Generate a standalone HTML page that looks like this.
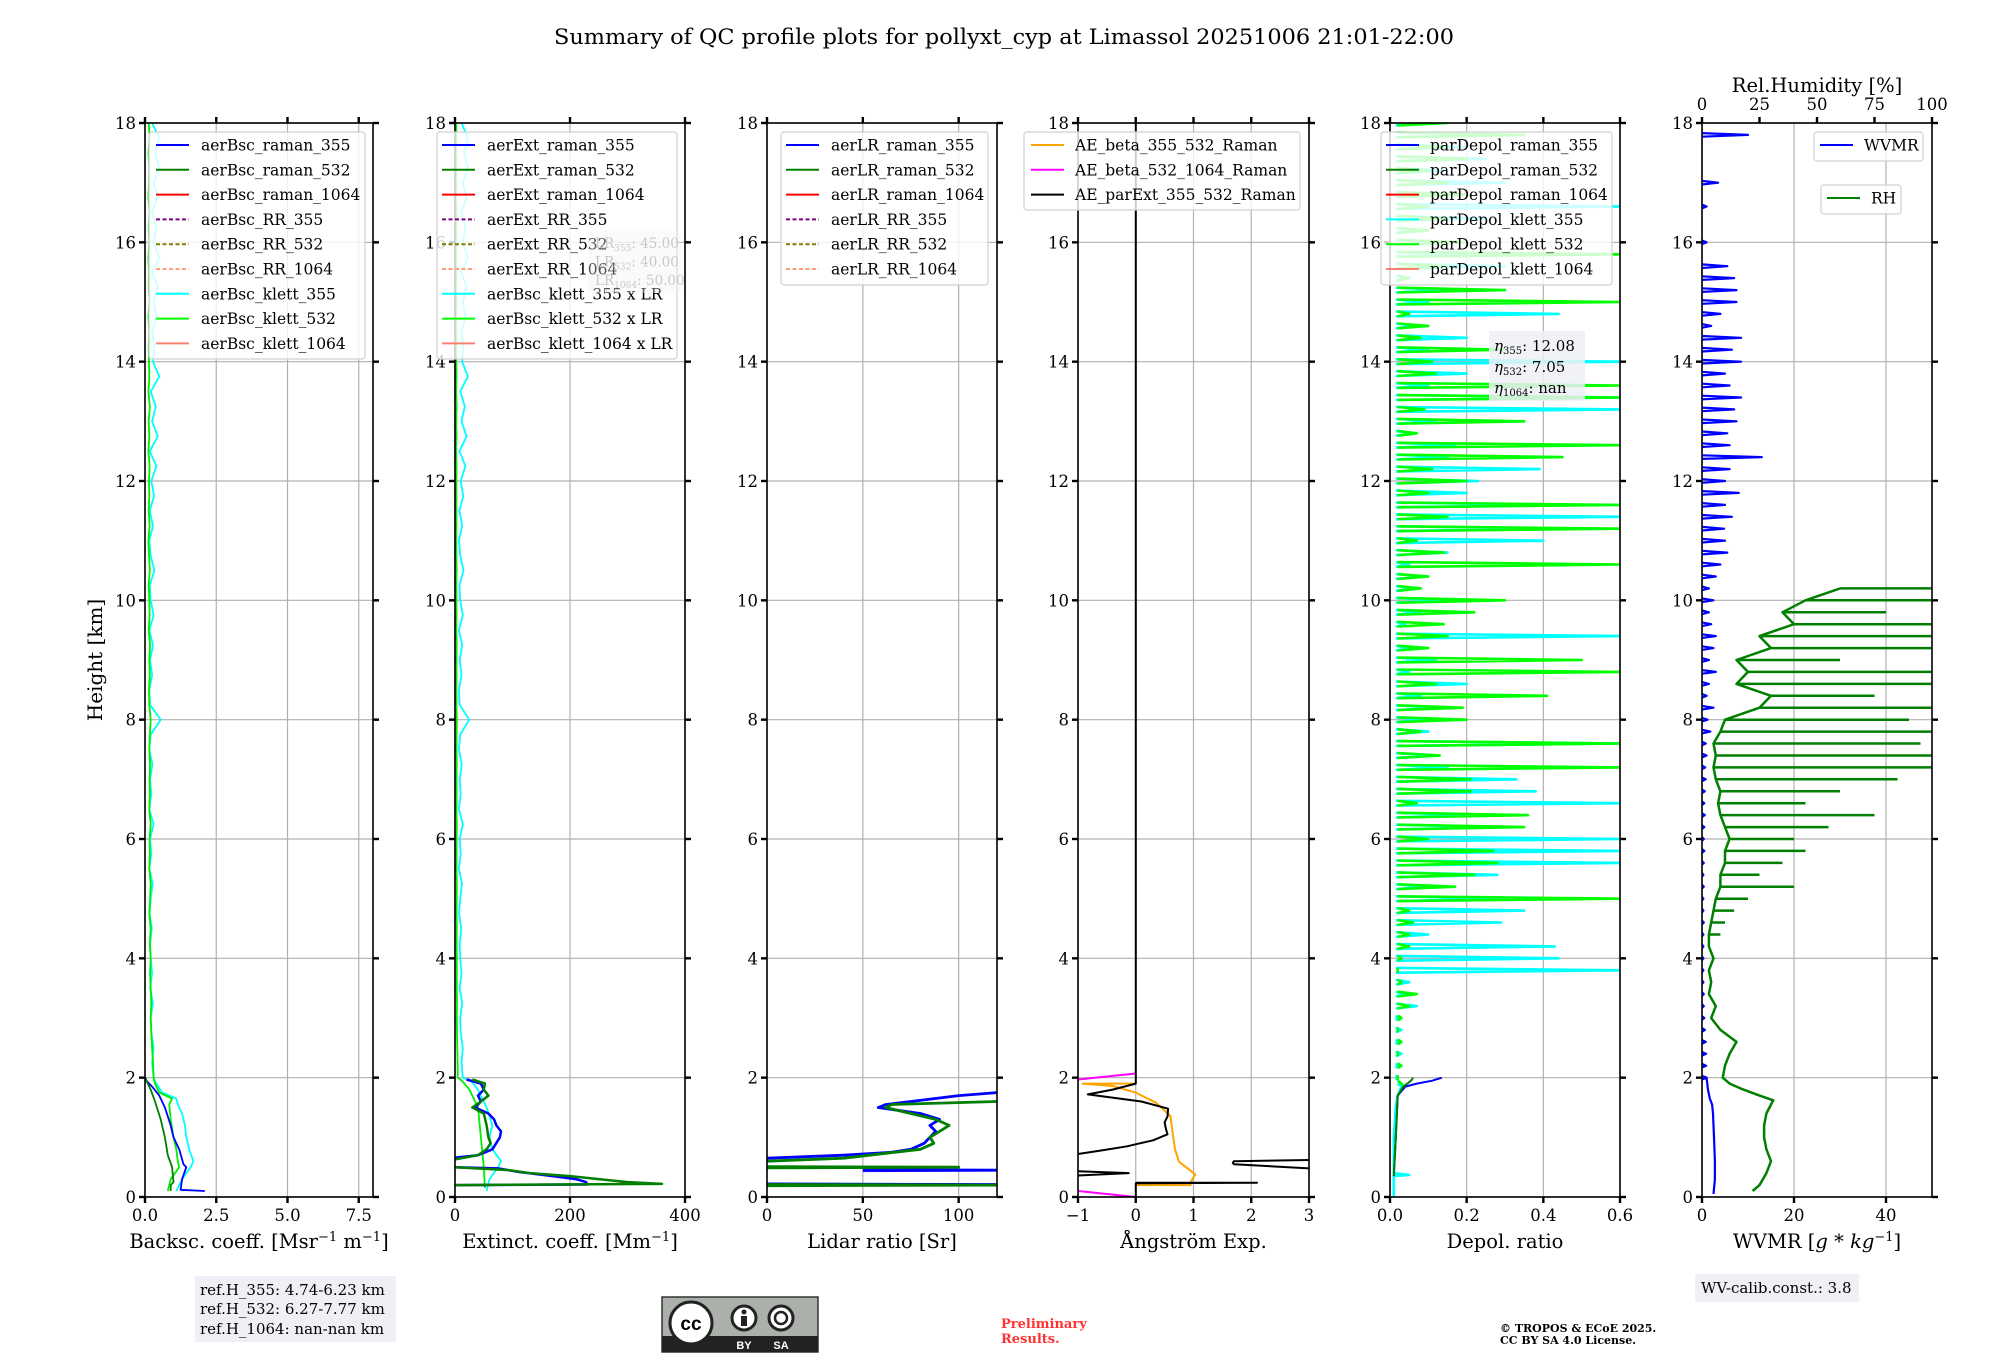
<!DOCTYPE html>
<html><head><meta charset="utf-8"><style>
html,body{margin:0;padding:0;background:#fff;}
svg{display:block;font-family:"DejaVu Serif","Liberation Serif",serif;}
</style></head><body>
<svg id="fig" width="2000" height="1360" viewBox="0 0 2000 1360" xmlns="http://www.w3.org/2000/svg">
<rect x="0" y="0" width="2000" height="1360" fill="#fff"/>
<text x="1004" y="44" font-size="21.5" text-anchor="middle" textLength="900" lengthAdjust="spacingAndGlyphs">Summary of QC profile plots for pollyxt_cyp at Limassol 20251006 21:01-22:00</text>
<text x="0" y="0" font-size="20" text-anchor="middle" transform="translate(102,660) rotate(-90)">Height [km]</text>
<g id="layer"></g>

<g>
<rect x="195" y="1276" width="201" height="66" fill="#eef0f5"/>
<text x="200" y="1295" font-size="15">ref.H_355: 4.74-6.23 km</text>
<text x="200" y="1314" font-size="15">ref.H_532: 6.27-7.77 km</text>
<text x="200" y="1334" font-size="15">ref.H_1064: nan-nan km</text>
</g>
<g>
<rect x="662" y="1297" width="156" height="55" fill="#abb1aa" stroke="#333" stroke-width="1.5"/>
<rect x="662" y="1336" width="156" height="16" fill="#222"/>
<circle cx="691" cy="1323" r="21" fill="#fff" stroke="#222" stroke-width="3"/>
<text x="691" y="1330" font-size="19" font-weight="bold" text-anchor="middle" font-family="Liberation Sans, sans-serif">cc</text>
<circle cx="744" cy="1318" r="12" fill="#fff" stroke="#222" stroke-width="3"/>
<circle cx="744" cy="1312" r="2.5" fill="#222"/>
<rect x="741" y="1316" width="6" height="10" fill="#222"/>
<circle cx="781" cy="1318" r="12" fill="#fff" stroke="#222" stroke-width="3"/>
<circle cx="781" cy="1318" r="6" fill="none" stroke="#222" stroke-width="2.5"/>
<text x="744" y="1349" font-size="11" fill="#fff" text-anchor="middle" font-family="Liberation Sans, sans-serif" font-weight="bold">BY</text>
<text x="781" y="1349" font-size="11" fill="#fff" text-anchor="middle" font-family="Liberation Sans, sans-serif" font-weight="bold">SA</text>
</g>
<text x="1001" y="1328" font-size="13" font-weight="bold" fill="#ff3333">Preliminary</text>
<text x="1001" y="1343" font-size="13" font-weight="bold" fill="#ff3333">Results.</text>
<text x="1500" y="1332" font-size="11" font-weight="bold">© TROPOS &amp; ECoE 2025.</text>
<text x="1500" y="1344" font-size="11" font-weight="bold">CC BY SA 4.0 License.</text>
<rect x="1695" y="1274" width="164" height="28" fill="#eef0f5"/>
<text x="1701" y="1293" font-size="15">WV-calib.const.: 3.8</text>
</svg>
<script>
// ---------------- data ----------------
const yTicks=[0,2,4,6,8,10,12,14,16,18];
const gridH=[];for(let i=0;i<=80;i++)gridH.push(2+i*0.2);
const bscGridH=[];for(let i=0;i<=64;i++)bscGridH.push(2+i*0.25);

const bscR355H=[0.1,0.12,0.3,0.5,0.55,0.8,1.0,1.2,1.5,1.7,1.85,1.95,2.0];
const bscR355V=[2.1,1.25,1.3,1.45,1.35,1.2,1.0,0.9,0.7,0.5,0.25,0.05,0.02];
const bscR532H=[0.1,0.2,0.25,0.5,0.7,1.0,1.3,1.6,1.8,2.0];
const bscR532V=[0.9,0.9,1.0,0.95,0.8,0.7,0.55,0.35,0.2,0.0];
const bscK355LowH=[0.1,0.3,0.5,0.6,0.8,1.0,1.2,1.4,1.55,1.65,1.75,1.9];
const bscK355LowV=[1.1,1.3,1.6,1.7,1.55,1.45,1.4,1.3,1.15,1.1,0.6,0.4];
const bscK532LowH=[0.1,0.3,0.5,0.6,0.8,1.0,1.3,1.55,1.65,1.75,1.9];
const bscK532LowV=[0.8,0.9,1.2,1.15,1.1,1.0,0.9,0.85,0.95,0.5,0.35];
const bscK355Up=[0.3,0.25,0.3,0.22,0.2,0.28,0.18,0.25,0.2,0.18,0.24,0.16,0.2,0.27,0.15,0.22,0.18,0.3,0.15,0.22,0.18,0.26,0.15,0.2,0.55,0.18,0.15,0.25,0.18,0.28,0.15,0.3,0.2,0.17,0.33,0.2,0.15,0.28,0.17,0.32,0.22,0.4,0.17,0.45,0.25,0.38,0.2,0.5,0.28,0.33,0.25,0.4,0.3,0.45,0.25,0.5,0.3,0.4,0.25,0.45,0.3,0.5,0.35,0.5,0.25];
const bscK532Up=[0.3,0.28,0.25,0.22,0.2,0.22,0.2,0.18,0.2,0.17,0.2,0.15,0.18,0.2,0.15,0.17,0.16,0.2,0.15,0.17,0.16,0.18,0.15,0.17,0.2,0.15,0.14,0.17,0.15,0.18,0.13,0.16,0.15,0.13,0.17,0.14,0.12,0.16,0.13,0.15,0.14,0.16,0.12,0.15,0.13,0.17,0.12,0.15,0.14,0.13,0.15,0.12,0.16,0.13,0.14,0.12,0.15,0.13,0.16,0.12,0.14,0.15,0.12,0.16,0.13];
const lidarRatios=[45,40,50];

const extR355H=[0.2,0.21,0.25,0.3,0.35,0.42,0.48,0.5,null,0.66,0.7,0.8,1.0,1.1,1.2,1.3,1.4,1.5,1.6,1.7,1.8,1.9,1.97];
const extR355V=[0,230,228,210,170,110,75,0,null,0,40,65,78,80,72,68,58,35,45,40,50,45,20];
const extR532H=[0.2,0.22,0.25,0.3,0.35,0.4,0.45,0.5,null,0.63,0.7,0.8,0.9,1.0,1.2,1.4,1.5,1.6,1.7,1.8,1.9,1.97];
const extR532V=[0,360,300,250,200,130,95,0,null,0,40,55,62,58,55,50,30,45,58,50,52,30];
const extK355LowH=[0.1,0.3,0.5,0.6,0.8,1.0,1.2,1.5,1.8,1.95];
const extK355LowV=[55,60,75,80,65,60,65,55,40,28];
const extK532LowH=[0.15,0.5,1.0,1.5,1.8,1.95];
const extK532LowV=[52,50,45,40,25,12];

const lrR355H=[0.2,0.21,0.22,null,0.44,0.45,0.46,null,0.65,0.7,0.75,0.8,0.9,1.0,1.1,1.2,1.3,1.4,1.5,1.55,1.6,1.7,1.75];
const lrR355V=[0,120,0,null,50,120,50,null,0,40,65,75,82,85,88,85,90,80,58,62,75,100,120];
const lrR532H=[0.19,0.2,0.21,null,0.49,0.5,0.51,null,0.6,0.65,0.8,0.9,1.0,1.1,1.2,1.3,1.4,1.5,1.55,1.6];
const lrR532V=[0,120,0,null,0,100,0,null,0,40,80,87,85,90,95,88,75,62,65,120];

const aeExtH=[0,0.23,0.24,0.24,null,0.36,0.4,0.43,null,0.48,0.55,0.57,0.6,0.62,null,0.72,0.78,0.85,0.95,1.05,1.15,1.25,1.35,1.48,1.6,1.72,1.8,1.9,18];
const aeExtV=[0,0,2.1,0,null,-1,-0.12,-1,null,3,1.7,1.68,1.7,3,null,-1,-0.6,-0.15,0.3,0.55,0.52,0.5,0.55,0.56,0.1,-0.83,-0.4,0,0];
const aeBsc355H=[0.2,0.2,0.25,0.38,0.59,0.8,1.0,1.36,1.58,1.75,1.86,1.9,1.9];
const aeBsc355V=[0,0.95,0.95,1.03,0.75,0.68,0.65,0.6,0.35,0.0,-0.4,-0.92,0];
const aeBsc1064H=[0,0.1,null,1.97,2.07];
const aeBsc1064V=[0,-1,null,-1,0];

const dpR355H=[0.35,1.0,1.7,1.85,1.9,1.95,2.0];
const dpR355V=[0.01,0.015,0.02,0.04,0.07,0.11,0.135];
const dpR532H=[0.35,1.0,1.7,1.85,1.95,2.0];
const dpR532V=[0.01,0.015,0.02,0.035,0.055,0.06];
const dpK355LowH=[0.0,0.35,0.37,0.4,1.0,1.5,1.7,1.85,1.9];
const dpK355LowV=[0.01,0.01,0.05,0.01,0.01,0.015,0.02,0.03,0.02];
const dpK532LowH=[1.7,1.85,1.9,1.95];
const dpK532LowV=[0.02,0.035,0.03,0.02];
const dpK355=[0.02,0.02,0.03,0.02,0.03,0.02,0.07,0.04,0.05,0.6,0.44,0.43,0.1,0.29,0.35,0.31,0.1,0.28,0.6,0.6,0.6,0.27,0.2,0.6,0.38,0.33,0.15,0.13,0.6,0.1,0.09,0.13,0.08,0.2,0.05,0.12,0.05,0.6,0.04,0.08,0.14,0.06,0.1,0.05,0.15,0.4,0.44,0.6,0.44,0.2,0.23,0.39,0.15,0.17,0.06,0.12,0.6,0.6,0.1,0.2,0.6,0.1,0.2,0.07,0.44,0.1,0.15,0.05,0.3,0.2,0.15,0.1,0.25,0.6,0.2,0.3,0.15,0.25,0.2,0.3,0.1];
const dpK532=[0.02,0.03,0.02,0.03,0.02,0.03,0.05,0.07,0.03,0.02,0.03,0.05,0.05,0.06,0.05,0.6,0.17,0.22,0.28,0.27,0.1,0.35,0.36,0.07,0.21,0.21,0.6,0.13,0.6,0.08,0.2,0.19,0.41,0.12,0.6,0.5,0.1,0.15,0.14,0.22,0.3,0.08,0.1,0.6,0.14,0.07,0.6,0.15,0.6,0.1,0.2,0.11,0.45,0.6,0.07,0.35,0.09,0.6,0.6,0.12,0.11,0.3,0.08,0.1,0.05,0.6,0.3,0.05,0.15,0.6,0.2,0.1,0.15,0.1,0.2,0.15,0.1,0.2,0.15,0.35,0.15];

const wvLowH=[0.05,0.3,0.6,1.0,1.4,1.55,1.65,1.8,2.0];
const wvLowV=[2.5,2.8,2.8,2.6,2.4,2.2,1.7,1.3,1.0];
const wvmr=[1.0,0.9,0.9,0.8,0.6,0.5,0.4,0.4,0.3,0.3,0.3,0.3,0.3,0.4,0.3,0.3,0.4,0.3,0.4,0.5,0.4,0.5,0.6,0.5,0.6,0.8,0.7,1.0,0.8,1.8,1.2,2.5,1.0,1.5,3.0,1.5,2.5,3.0,2.0,1.5,2.5,1.5,3.0,4.0,5.5,5.0,4.8,6.5,5.0,8.0,5.0,6.0,13.0,6.0,5.5,7.5,7.0,8.5,6.0,5.0,8.5,6.5,8.5,2.0,4.0,7.5,7.5,7.0,5.5,null,1.0,null,null,1.0,null,3.5,null,null,null,10.0,null];
const rhLowH=[0.1,0.2,0.4,0.6,0.8,1.0,1.2,1.4,1.55,1.62,1.7,1.8,1.9];
const rhLowV=[22,25,28,30,28,27,27,28,30,31,25,18,12];
// RH: per-level maximum (rh) and minimum (rhLo) of the fluctuating profile
const rh=[9,10,12,15,8,4,6,3,4,3,5,3,8,10,14,20,40,25,35,45,40,55,75,45,60,85,100,100,95,100,90,100,75,100,100,60,100,100,100,80,100,100,null,null,null,null,null,null,null,null,null,null,null,null,null,null,null,null,null,null,null,null,null,null,null,null,null,null,null,null,null,null,null,null,null,null,null,null,null,null,null];
const rhLo=[9,10,12,15,8,4,6,3,4,3,5,3,3,4,5,6,8,8,10,10,12,10,8,7,8,6,5,6,5,8,10,25,30,15,20,15,30,25,40,35,45,60,null,null,null,null,null,null,null,null,null,null,null,null,null,null,null,null,null,null,null,null,null,null,null,null,null,null,null,null,null,null,null,null,null,null,null,null,null,null,null];

// ---------------- layout ----------------
const Y0=1197, Y1=123, HMAX=18;
const panels=[
 {x0:145,x1:373,xmin:0,xmax:8,ticks:[0,2.5,5,7.5],labels:["0.0","2.5","5.0","7.5"],xlabel:"Backsc. coeff. [Msr<tspan baseline-shift='super' font-size='13'>−1</tspan> m<tspan baseline-shift='super' font-size='13'>−1</tspan>]",name:"backscatter"},
 {x0:455,x1:685,xmin:0,xmax:400,ticks:[0,200,400],labels:["0","200","400"],xlabel:"Extinct. coeff. [Mm<tspan baseline-shift='super' font-size='13'>−1</tspan>]",name:"extinction"},
 {x0:767,x1:997,xmin:0,xmax:120,ticks:[0,50,100],labels:["0","50","100"],xlabel:"Lidar ratio [Sr]",name:"lidar-ratio"},
 {x0:1078,x1:1309,xmin:-1,xmax:3,ticks:[-1,0,1,2,3],labels:["−1","0","1","2","3"],xlabel:"Ångström Exp.",name:"angstrom"},
 {x0:1390,x1:1620,xmin:0,xmax:0.6,ticks:[0,0.2,0.4,0.6],labels:["0.0","0.2","0.4","0.6"],xlabel:"Depol. ratio",name:"depol"},
 {x0:1702,x1:1932,xmin:0,xmax:50,ticks:[0,20,40],labels:["0","20","40"],xlabel:"WVMR [<tspan font-style='italic'>g</tspan> * <tspan font-style='italic'>kg</tspan><tspan baseline-shift='super' font-size='13'>−1</tspan>]",name:"wvmr"}
];
const rhTicks=[0,25,50,75,100];
const NS="http://www.w3.org/2000/svg";
const layer=document.getElementById('layer');
function sx(p,v){const P=panels[p];return P.x0+(v-P.xmin)/(P.xmax-P.xmin)*(P.x1-P.x0);}
function sxRH(v){return 1702+v/100*230;}
function sy(h){return Y0-(h/HMAX)*(Y0-Y1);}
function mk(tag,attrs,parent){const e=document.createElementNS(NS,tag);for(const k in attrs)e.setAttribute(k,attrs[k]);(parent||layer).appendChild(e);return e;}
function lineD(p,xs,hs,fx){let d="",pen=false;for(let i=0;i<hs.length;i++){if(hs[i]==null||xs[i]==null){pen=false;continue;}const X=(fx?fx(xs[i]):sx(p,xs[i])).toFixed(1),Y=sy(hs[i]).toFixed(1);d+=(pen?"L":"M")+X+" "+Y;pen=true;}return d;}
function rangeD(lo,hi,hs,fx){let d="";for(let i=0;i<hs.length;i++){if(lo[i]==null||hi[i]==null||hi[i]===lo[i])continue;d+="M"+fx(lo[i]).toFixed(1)+" "+sy(hs[i]).toFixed(1)+"L"+fx(hi[i]).toFixed(1)+" "+sy(hs[i]).toFixed(1);}return d;}
function spikeD(p,vals,hs,base,dh,fx){let d="";const f=fx||(v=>sx(p,v));for(let i=0;i<hs.length;i++){if(vals[i]==null)continue;d+="M"+f(base).toFixed(1)+" "+sy(hs[i]-dh).toFixed(1)+"L"+f(vals[i]).toFixed(1)+" "+sy(hs[i]).toFixed(1)+"L"+f(base).toFixed(1)+" "+sy(hs[i]+dh).toFixed(1);}return d;}

const defs=mk('defs',{});
panels.forEach((P,i)=>{const c=mk('clipPath',{id:'clip'+i},defs);mk('rect',{x:P.x0,y:Y1,width:P.x1-P.x0,height:Y0-Y1},c);});

panels.forEach((P,pi)=>{
 const g=mk('g',{});
 
 
 yTicks.forEach(h=>{const l=mk('line',{x1:P.x0,x2:P.x1,y1:sy(h),y2:sy(h),stroke:'#b0b0b0','stroke-width':1.2},g);
  
  });
 P.ticks.forEach(t=>{const l=mk('line',{x1:sx(pi,t),x2:sx(pi,t),y1:Y1,y2:Y0,stroke:'#b0b0b0','stroke-width':1.2},g);
  
  });
 const data=mk('g',{'clip-path':'url(#clip'+pi+')','fill':'none','stroke-linejoin':'round'},g);
 
 
 P.g=data; P.outer=g;
});

function addPath(pi,d,color,w,name,extra){const e=mk('path',Object.assign({d:d,stroke:color,'stroke-width':w,fill:'none'},extra||{}),panels[pi].g);
 
 return e;}

addPath(0,lineD(0,bscK355LowV.concat(bscK355Up),bscK355LowH.concat(bscGridH)),'#00ffff',1.8,'aerbsc-klett-355-line');
addPath(0,lineD(0,bscK532LowV.concat(bscK532Up),bscK532LowH.concat(bscGridH)),'#00ee00',1.8,'aerbsc-klett-532-line');
addPath(0,lineD(0,bscR355V,bscR355H),'#0000ff',1.8,'aerbsc-raman-355-line');
addPath(0,lineD(0,bscR532V,bscR532H),'#007f00',1.8,'aerbsc-raman-532-line');
addPath(1,lineD(1,extK355LowV.concat(bscK355Up.map(v=>v*lidarRatios[0])),extK355LowH.concat(bscGridH)),'#00ffff',1.8,'aerbsc-klett-355-x-lr-line');
addPath(1,lineD(1,extK532LowV.concat(bscK532Up.map(v=>v*lidarRatios[1]*0.4)),extK532LowH.concat(bscGridH)),'#00ee00',1.8,'aerbsc-klett-532-x-lr-line');
addPath(1,lineD(1,extR355V,extR355H),'#0000ff',2.5,'aerext-raman-355-line');
addPath(1,lineD(1,extR532V,extR532H),'#007f00',2.5,'aerext-raman-532-line');
addPath(2,lineD(2,lrR355V,lrR355H),'#0000ff',2.8,'aerlr-raman-355-line');
addPath(2,lineD(2,lrR532V,lrR532H),'#007f00',2.8,'aerlr-raman-532-line');
addPath(3,lineD(3,aeBsc355V,aeBsc355H),'#ffa500',2,'ae-beta-355-532-line');
addPath(3,lineD(3,aeBsc1064V,aeBsc1064H),'#ff00ff',2,'ae-beta-532-1064-line');
addPath(3,lineD(3,aeExtV,aeExtH),'#000000',2,'ae-parext-355-532-line');
addPath(4,lineD(4,dpK355LowV,dpK355LowH)+spikeD(4,dpK355,gridH,0.015,0.04),'#00ffff',2.6,'pardepol-klett-355-line');
addPath(4,lineD(4,dpK532LowV,dpK532LowH)+spikeD(4,dpK532,gridH,0.02,0.04),'#00ff00',2.6,'pardepol-klett-532-line');
addPath(4,lineD(4,dpR355V,dpR355H),'#0000ff',2,'pardepol-raman-355-line');
addPath(4,lineD(4,dpR532V,dpR532H),'#007f00',2,'pardepol-raman-532-line');
addPath(5,lineD(5,rhLowV.concat(rhLo),rhLowH.concat(gridH),sxRH)+rangeD(rhLo,rh,gridH,sxRH),'#007f00',2.5,'rh-line');
addPath(5,lineD(5,wvLowV,wvLowH)+spikeD(5,wvmr,gridH,0,0.03),'#0000ff',2.2,'wvmr-line');

panels.forEach((P,pi)=>{
 const g=P.outer;
 const sp=mk('rect',{x:P.x0,y:Y1,width:P.x1-P.x0,height:Y0-Y1,fill:'none',stroke:'#000','stroke-width':1.6},g);
 
 
 yTicks.forEach(h=>{
  const a=mk('line',{x1:P.x0-6,x2:P.x0,y1:sy(h),y2:sy(h),stroke:'#000','stroke-width':2.4},g);
  
  
  const b=mk('line',{x1:P.x1,x2:P.x1+6,y1:sy(h),y2:sy(h),stroke:'#000','stroke-width':2.4},g);
  
  
  const t=mk('text',{x:P.x0-9,y:sy(h)+6,'font-size':16.5,'text-anchor':'end'},g);t.textContent=String(h);
  
  
 });
 P.ticks.forEach((v,i)=>{
  const a=mk('line',{x1:sx(pi,v),x2:sx(pi,v),y1:Y0,y2:Y0+6,stroke:'#000','stroke-width':2.4},g);
  
  
  if(pi!==5){const b=mk('line',{x1:sx(pi,v),x2:sx(pi,v),y1:Y1-6,y2:Y1,stroke:'#000','stroke-width':2.4},g);
  
  }
  const t=mk('text',{x:sx(pi,v),y:Y0+24,'font-size':16.5,'text-anchor':'middle'},g);t.textContent=P.labels[i];
  
  
 });
 const xl=mk('text',{x:(P.x0+P.x1)/2,y:1248,'font-size':19.5,'text-anchor':'middle'},g);xl.innerHTML=P.xlabel;
 
 
});
rhTicks.forEach(v=>{
 const a=mk('line',{x1:sxRH(v),x2:sxRH(v),y1:Y1-6,y2:Y1,stroke:'#000','stroke-width':2.4});
 
 
 const t=mk('text',{x:sxRH(v),y:110,'font-size':16.5,'text-anchor':'middle'});t.textContent=String(v);
 
 
});
const rht=mk('text',{x:1817,y:92,'font-size':19.5,'text-anchor':'middle'});rht.textContent='Rel.Humidity [%]';



function legend(name,x,y,w,h,hx,tx,entries){
 const g=mk('g',{});
 
 
 const r=mk('rect',{x:x,y:y,width:w,height:h,rx:3,fill:'#fff','fill-opacity':0.8,stroke:'#d0d0d0','stroke-width':1.2},g);
 
 
 entries.forEach((e,i)=>{
  const cy=y+13+i*24.8;
  const l=mk('line',{x1:hx,x2:hx+33,y1:cy,y2:cy,stroke:e[1],'stroke-width':2,'stroke-dasharray':e[2]?'4,2.5':'none'},g);
  
  
  const t=mk('text',{x:tx,y:cy+5.5,'font-size':15.5},g);t.textContent=e[0];
  
  
 });
}
const cols={r355:'#0000ff',r532:'#008000',r1064:'#ff0000',rr355:'#800080',rr532:'#808000',rr1064:'#ffa07a',k355:'#00ffff',k532:'#00ff00',k1064:'#fa8072'};
legend('legend-backscatter',149,132,216,227,156,201,[['aerBsc_raman_355',cols.r355],['aerBsc_raman_532',cols.r532],['aerBsc_raman_1064',cols.r1064],['aerBsc_RR_355',cols.rr355,1],['aerBsc_RR_532',cols.rr532,1],['aerBsc_RR_1064',cols.rr1064,1],['aerBsc_klett_355',cols.k355],['aerBsc_klett_532',cols.k532],['aerBsc_klett_1064',cols.k1064]]);
legend('legend-extinction',437,132,240,227,442,487,[['aerExt_raman_355',cols.r355],['aerExt_raman_532',cols.r532],['aerExt_raman_1064',cols.r1064],['aerExt_RR_355',cols.rr355,1],['aerExt_RR_532',cols.rr532,1],['aerExt_RR_1064',cols.rr1064,1],['aerBsc_klett_355 x LR',cols.k355],['aerBsc_klett_532 x LR',cols.k532],['aerBsc_klett_1064 x LR',cols.k1064]]);
legend('legend-lidar-ratio',781,132,207,153,786,831,[['aerLR_raman_355',cols.r355],['aerLR_raman_532',cols.r532],['aerLR_raman_1064',cols.r1064],['aerLR_RR_355',cols.rr355,1],['aerLR_RR_532',cols.rr532,1],['aerLR_RR_1064',cols.rr1064,1]]);
legend('legend-angstrom',1024,132,276,78,1031,1075,[['AE_beta_355_532_Raman','#ffa500'],['AE_beta_532_1064_Raman','#ff00ff'],['AE_parExt_355_532_Raman','#000000']]);
legend('legend-depol',1381,132,231,153,1386,1430,[['parDepol_raman_355',cols.r355],['parDepol_raman_532',cols.r532],['parDepol_raman_1064',cols.r1064],['parDepol_klett_355',cols.k355],['parDepol_klett_532',cols.k532],['parDepol_klett_1064',cols.k1064]]);
legend('legend-wvmr',1814,132,109,29,1820,1864,[['WVMR',cols.r355]]);
legend('legend-rh',1821,185,80,29,1827,1871,[['RH',cols.r532]]);

(function(){
 const g=mk('g',{});
 
 
 mk('rect',{x:588,y:231,width:93,height:62,fill:'#eef0f5','fill-opacity':0.35},g);
 const lrNames=['355','532','1064'];
 lrNames.forEach((n,i)=>{const t=mk('text',{x:595,y:248+i*18.5,'font-size':13.5,fill:'#c8c8c8'},g);
  t.innerHTML='LR<tspan font-size="9" dy="3">'+n+'</tspan><tspan dy="-3">: '+lidarRatios[i].toFixed(2)+'</tspan>';
  
  });
 const g2=mk('g',{});
 
 
 mk('rect',{x:1489,y:331,width:96,height:70,fill:'#eef0f5','fill-opacity':0.85},g2);
 const etaN=['355','532','1064'],etaV=['12.08','7.05','nan'];
 etaN.forEach((n,i)=>{const t=mk('text',{x:1494,y:351+i*21,'font-size':15},g2);
  t.innerHTML='<tspan font-style="italic">η</tspan><tspan font-size="10" dy="3">'+n+'</tspan><tspan dy="-3">: '+etaV[i]+'</tspan>';
  
  });
})();
</script>
</body></html>
